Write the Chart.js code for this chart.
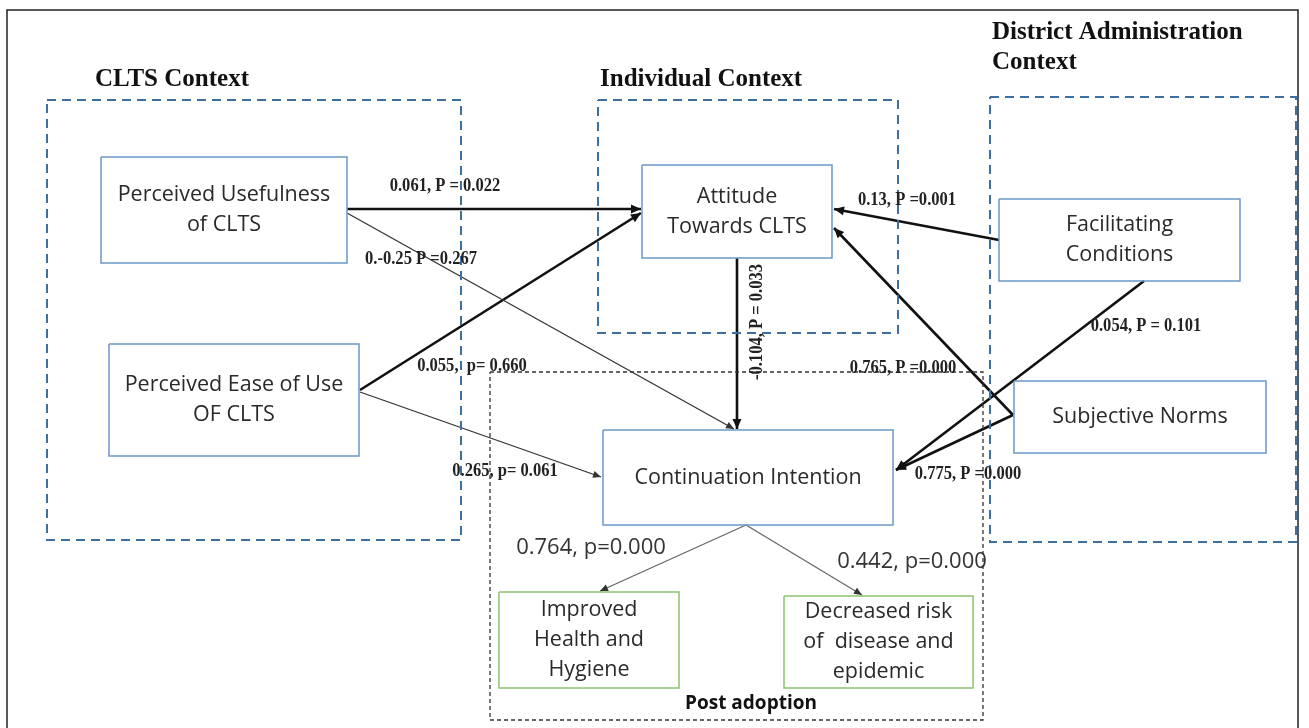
<!DOCTYPE html>
<html>
<head>
<meta charset="utf-8">
<script src="https://cdn.jsdelivr.net/npm/chart.js@4"></script>
<style>
  body { margin: 0; background: #fff; }
  #wrap { width: 1309px; height: 728px; position: relative; }
</style>
</head>
<body>
<div id="wrap"><canvas id="myChart"></canvas></div>
<script>
// diagram space is 1309 x 728, y grows downwards
const nodeNames = [
    'Perceived Usefulness\nof CLTS',
    'Perceived Ease of Use\nOF CLTS',
    'Attitude\nTowards CLTS',
    'Facilitating\nConditions',
    'Subjective Norms',
    'Continuation Intention',
    'Improved\nHealth and\nHygiene',
    'Decreased risk\nof  disease and\nepidemic'
];
const nodeKinds = ['construct', 'construct', 'construct', 'construct', 'construct', 'construct', 'outcome', 'outcome'];
// left, top, right, bottom
const nodeRects = [
    [101, 157, 347, 263],
    [109, 344, 359, 456],
    [642, 165, 832, 258],
    [999, 199, 1240, 281],
    [1014, 381, 1266, 453],
    [603, 430, 893, 525],
    [499, 592, 679, 688],
    [784, 596, 973, 688]
];

const groupTitles = ['CLTS Context', 'Individual Context', 'District Administration\nContext', 'Post adoption'];
const groupRects = [
    [47, 100, 461, 540],
    [598, 100, 898, 333],
    [990, 97, 1296, 542],
    [490, 372, 983, 720]
];

// path coefficients as printed on the figure
const pathLabels = [
    '0.061, P = 0.022',
    '0.-0.25 P =0.267',
    '0.055,  p= 0.660',
    '0.265, p= 0.061',
    '-0.104, P = 0.033',
    '0.13, P =0.001',
    '0.765, P =0.000',
    '0.775, P =0.000',
    '0.054, P = 0.101',
    '0.764, p=0.000',
    '0.442, p=0.000'
];
const pathStrong = [true, false, true, false, true, true, true, true, true, false, false];
const pathFrom = [[347, 209], [347, 213], [360, 390], [360, 392], [737, 258], [999, 240], [1013, 415], [1013, 415], [1144, 281], [746, 525], [746, 525]];
const pathTo = [[641, 209], [734, 429], [641, 213], [601, 477], [737, 429], [834, 209], [834, 228], [896, 470], [896, 470], [600, 591], [862, 595]];
const labelAt = [[445, 186], [421, 259], [472, 366], [505, 471], [757, 322], [907, 200], [903, 368], [968, 474], [1146, 326], [591, 548], [912, 562]];

const rectPoints = r => [
    {x: r[0], y: r[1]}, {x: r[2], y: r[1]}, {x: r[2], y: r[3]}, {x: r[0], y: r[3]}, {x: r[0], y: r[1]}
];

const datasets = [];
// outer frame
datasets.push({
    data: [{x: 7, y: 740}, {x: 7, y: 10}, {x: 1298, y: 10}, {x: 1298, y: 740}],
    borderColor: '#222', borderWidth: 1.5
});
groupRects.forEach((r, i) => {
    const post = i === 3;
    datasets.push({
        data: rectPoints(r),
        borderColor: post ? '#333' : '#3d6f9f',
        borderWidth: post ? 1.3 : 2,
        borderDash: post ? [4, 3] : [9, 6]
    });
});
nodeRects.forEach((r, i) => {
    datasets.push({
        data: rectPoints(r),
        borderColor: nodeKinds[i] === 'outcome' ? '#8dc26f' : '#6b98c9',
        borderWidth: 1.5
    });
});
pathFrom.forEach((p, i) => {
    datasets.push({
        data: [{x: p[0], y: p[1]}, {x: pathTo[i][0], y: pathTo[i][1]}],
        borderColor: pathStrong[i] ? '#111' : (i >= 9 ? '#666' : '#333'),
        borderWidth: pathStrong[i] ? 2.6 : 1.3
    });
});
datasets.forEach(d => {
    d.showLine = true;
    d.pointRadius = 0;
    d.tension = 0;
    d.fill = false;
});

const textPlugin = {
    id: 'diagramText',
    afterDatasetsDraw(chart) {
        const c = chart.ctx;
        const sx = chart.scales.x, sy = chart.scales.y;
        const px = v => sx.getPixelForValue(v);
        const py = v => sy.getPixelForValue(v);
        c.save();

        // arrow heads
        pathFrom.forEach((p, i) => {
            const x1 = px(p[0]), y1 = py(p[1]);
            const x2 = px(pathTo[i][0]), y2 = py(pathTo[i][1]);
            const a = Math.atan2(y2 - y1, x2 - x1);
            const len = pathStrong[i] ? 10 : 8, half = pathStrong[i] ? 4.5 : 3.5;
            c.fillStyle = pathStrong[i] ? '#111' : '#333';
            c.beginPath();
            c.moveTo(x2, y2);
            c.lineTo(x2 - len * Math.cos(a) + half * Math.sin(a), y2 - len * Math.sin(a) - half * Math.cos(a));
            c.lineTo(x2 - len * Math.cos(a) - half * Math.sin(a), y2 - len * Math.sin(a) + half * Math.cos(a));
            c.closePath();
            c.fill();
        });

        c.textAlign = 'center';
        c.textBaseline = 'middle';

        // node captions
        c.fillStyle = '#2a2a2a';
        c.font = '21.5px "Open Sans", "Noto Sans", sans-serif';
        nodeNames.forEach((name, i) => {
            const r = nodeRects[i];
            const lines = name.split('\n');
            const cx = px((r[0] + r[2]) / 2), cy = py((r[1] + r[3]) / 2);
            const lh = 30;
            lines.forEach((ln, k) => {
                c.fillText(ln, cx, cy + (k - (lines.length - 1) / 2) * lh);
            });
        });

        // group titles
        c.fillStyle = '#111';
        c.font = 'bold 25px "Liberation Serif", "DejaVu Serif", serif';
        c.textAlign = 'left';
        c.fillText(groupTitles[0], px(95), py(80));
        c.fillText(groupTitles[1], px(600), py(80));
        groupTitles[2].split('\n').forEach((ln, k) => c.fillText(ln, px(992), py(33 + k * 30)));
        c.textAlign = 'center';
        c.font = 'bold 19px "Open Sans", "Noto Sans", sans-serif';
        c.fillText(groupTitles[3], px(751), py(704));

        // path labels
        pathLabels.forEach((t, i) => {
            const x = px(labelAt[i][0]), y = py(labelAt[i][1]);
            c.save();
            c.translate(x, y);
            if (i === 4) c.rotate(-Math.PI / 2);
            if (i >= 9) {
                c.font = '22px "Open Sans", "Noto Sans", sans-serif';
                c.fillStyle = '#333';
            } else {
                c.font = 'bold 18px "Liberation Serif", serif';
                c.fillStyle = '#222';
                c.scale(0.92, 1.05);
            }
            c.fillText(t, 0, 0);
            c.restore();
        });
        c.restore();
    }
};

const ctx = document.getElementById('myChart');
const chart = new Chart(ctx, {
    type: 'scatter',
    data: { datasets: datasets },
    options: {
        responsive: true,
        maintainAspectRatio: false,
        animation: false,
        layout: { padding: 0 },
        plugins: { legend: { display: false }, tooltip: { enabled: false } },
        scales: {
            x: { type: 'linear', min: 0, max: 1309, display: false },
            y: { type: 'linear', min: 0, max: 728, reverse: true, display: false }
        }
    },
    plugins: [textPlugin]
});
</script>
</body>
</html>
